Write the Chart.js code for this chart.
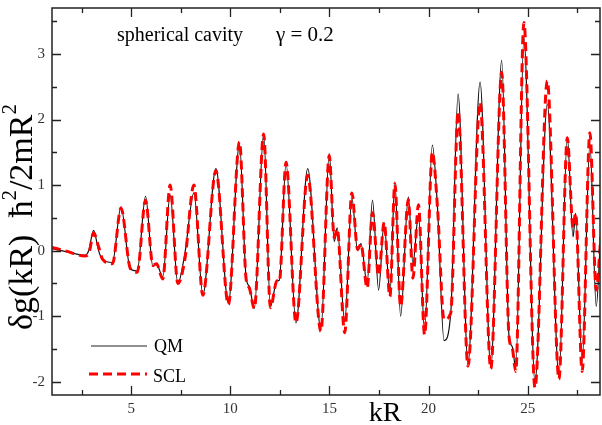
<!DOCTYPE html>
<html>
<head>
<meta charset="utf-8">
<script src="https://cdn.jsdelivr.net/npm/chart.js@4/dist/chart.umd.min.js"></script>
<style>
  html, body { margin: 0; padding: 0; background: #fff; overflow: hidden; }
  #wrap { width: 602px; height: 425px; }
</style>
</head>
<body>
<div id="wrap"><canvas id="chart" width="602" height="425"></canvas></div>
<script>
// values
const kr = [1.00, 1.65, 2.66, 2.85, 3.10, 3.35, 3.55, 4.05, 4.48, 4.95,
            5.30, 5.72, 6.09, 6.27, 6.59, 6.96, 7.35, 7.71, 8.16, 8.61,
            9.27, 9.90, 10.46, 10.79, 10.96, 11.21, 11.68, 12.02, 12.35, 12.47,
            12.81, 13.31, 13.90, 14.57, 14.99, 15.24, 15.39, 15.77, 16.13, 16.42,
            16.59, 16.90, 17.17, 17.48, 17.76, 18.05, 18.30, 18.59, 18.98, 19.21,
            19.49, 19.80, 20.19, 20.45, 20.78, 21.12, 21.49, 21.99, 22.60, 23.14,
            23.69, 24.06, 24.22, 24.40, 24.81, 25.37, 25.99, 26.58, 27.00, 27.29,
            27.42, 27.75, 28.14, 28.46, 28.69];
const qm = [0.03, -0.01, -0.07, 0.00, 0.31, 0.00, -0.14, -0.18, 0.67, -0.28,
            -0.31, 0.83, -0.24, -0.20, -0.40, 0.85, -0.50, -0.03, 0.88, -0.67,
            1.25, -0.80, 1.63, -0.40, -0.55, -0.88, 1.78, -0.85, -0.46, -0.45,
            1.33, -1.10, 1.25, -1.20, 1.48, 0.14, 0.35, -1.08, 0.80, 0.00,
            0.11, -0.50, 0.77, -0.60, 0.43, -0.67, 1.05, -1.00, 0.82, -0.20,
            0.55, -1.22, 1.61, 0.66, -1.37, -0.95, 2.39, -1.72, 2.57, -1.78,
            2.90, -1.31, -1.46, -1.79, 3.25, -2.00, 2.24, -1.92, 1.73, 0.21,
            0.57, -1.69, 1.63, -0.85, 0.30];
const scl = [0.05, 0.00, -0.08, -0.05, 0.27, 0.06, -0.13, -0.20, 0.65, -0.27,
             -0.33, 0.77, -0.22, -0.20, -0.43, 1.00, -0.50, -0.12, 1.00, -0.68,
             1.22, -0.82, 1.66, -0.42, -0.57, -0.88, 1.78, -0.87, -0.46, -0.47,
             1.35, -1.10, 1.15, -1.23, 1.45, 0.20, 0.33, -1.25, 0.88, 0.02,
             0.10, -0.57, 0.58, -0.38, 0.43, -0.70, 1.02, -0.85, 0.78, -0.42,
             0.70, -1.28, 1.50, 0.66, -1.05, -0.95, 2.12, -1.76, 2.26, -1.80,
             2.72, -1.31, -1.48, -1.84, 3.48, -2.09, 2.59, -1.96, 1.72, 0.35,
             0.57, -1.84, 1.80, -0.60, 0.20];

const xTicks = [2.5, 5, 7.5, 10, 12.5, 15, 17.5, 20, 22.5, 25, 27.5];
const yTicks = [-2, -1.5, -1, -0.5, 0, 0.5, 1, 1.5, 2, 2.5, 3, 3.5];

const SERIF = '"Liberation Serif", "DejaVu Serif", serif';

// inward ticks on all four sides + frame
const framePlugin = {
    id: 'frame',
    afterDraw(chart) {
        const { ctx, chartArea: a, scales } = chart;
        ctx.save();
        ctx.strokeStyle = '#222';
        ctx.lineWidth = 1.3;
        ctx.beginPath();
        yTicks.forEach(v => {
            const p = Math.round(scales.y.getPixelForValue(v)) + 0.5;
            const len = Number.isInteger(v) ? 9 : 5;
            ctx.moveTo(a.left, p); ctx.lineTo(a.left + len, p);
            ctx.moveTo(a.right, p); ctx.lineTo(a.right - len, p);
        });
        xTicks.forEach(v => {
            const p = Math.round(scales.x.getPixelForValue(v)) + 0.5;
            const len = v % 5 === 0 ? 9 : 5;
            ctx.moveTo(p, a.bottom); ctx.lineTo(p, a.bottom - len);
            ctx.moveTo(p, a.top); ctx.lineTo(p, a.top + len);
        });
        ctx.stroke();
        ctx.lineWidth = 1.5;
        ctx.strokeRect(a.left, a.top, a.right - a.left, a.bottom - a.top);
        ctx.restore();
    }
};

// titles, annotation and legend
const textPlugin = {
    id: 'texts',
    afterDraw(chart) {
        const ctx = chart.ctx;
        ctx.save();
        ctx.fillStyle = '#000';
        ctx.textBaseline = 'alphabetic';

        ctx.font = '20px ' + SERIF;
        ctx.fillText('spherical cavity', 117, 41);
        ctx.font = '21px ' + SERIF;
        ctx.fillText('\u03b3 = 0.2', 276, 41);

        // legend
        ctx.font = '18px ' + SERIF;
        ctx.strokeStyle = '#222';
        ctx.lineWidth = 1.2;
        ctx.beginPath(); ctx.moveTo(91, 346); ctx.lineTo(147, 346); ctx.stroke();
        ctx.strokeStyle = '#ff0000';
        ctx.lineWidth = 3;
        ctx.setLineDash([9, 5]);
        ctx.beginPath(); ctx.moveTo(89, 374); ctx.lineTo(147, 374); ctx.stroke();
        ctx.setLineDash([]);
        ctx.fillText('QM', 154, 352);
        ctx.fillText('SCL', 153, 382);

        // x title
        ctx.font = '28px ' + SERIF;
        ctx.textAlign = 'center';
        ctx.fillText('kR', 385, 421);

        // y title, rotated, with raised 2s
        const parts = [
            { t: '\u03b4g(kR)  \u0127', size: 34, dy: 0 },
            { t: '2', size: 21, dy: -16 },
            { t: '/2mR', size: 34, dy: 0 },
            { t: '2', size: 21, dy: -16 }
        ];
        ctx.textAlign = 'left';
        let total = 0;
        parts.forEach(p => {
            ctx.font = p.size + 'px ' + SERIF;
            p.w = ctx.measureText(p.t).width;
            total += p.w;
        });
        ctx.translate(32, 217);
        ctx.rotate(-Math.PI / 2);
        let x = -total / 2;
        parts.forEach(p => {
            ctx.font = p.size + 'px ' + SERIF;
            ctx.fillText(p.t, x, p.dy);
            x += p.w;
        });
        ctx.restore();
    }
};

const qmPoints = kr.map((x, i) => ({ x: x, y: qm[i] }));
const sclPoints = kr.map((x, i) => ({ x: x, y: scl[i] }));

new Chart(document.getElementById('chart'), {
    type: 'line',
    data: {
        datasets: [{
            label: 'QM',
            data: qmPoints,
            borderColor: '#111',
            borderWidth: 1.2,
            pointRadius: 0,
            cubicInterpolationMode: 'monotone',
            order: 2
        }, {
            label: 'SCL',
            data: sclPoints,
            borderColor: '#ff0000',
            borderWidth: 3,
            borderDash: [9, 5],
            pointRadius: 0,
            cubicInterpolationMode: 'monotone',
            order: 1
        }]
    },
    options: {
        responsive: false,
        animation: false,
        devicePixelRatio: 1,
        layout: { padding: { top: 8, right: 2, left: 0, bottom: 0 } },
        plugins: {
            legend: { display: false },
            tooltip: { enabled: false }
        },
        scales: {
            x: {
                type: 'linear',
                min: 1,
                max: 28.65,
                afterBuildTicks: s => { s.ticks = xTicks.map(v => ({ value: v })); },
                afterFit: s => {
                    s.height = 30;
                    s.paddingLeft = 0; s.paddingRight = 0;
                },
                grid: { display: false, drawTicks: false, tickLength: 0 },
                border: { display: false },
                ticks: {
                    autoSkip: false,
                    maxRotation: 0,
                    padding: 5,
                    color: '#333',
                    font: { family: SERIF, size: 15 },
                    callback: v => (v % 5 === 0 ? String(v) : '')
                }
            },
            y: {
                min: -2.2,
                max: 3.7,
                afterBuildTicks: s => { s.ticks = yTicks.map(v => ({ value: v })); },
                afterFit: s => {
                    s.width = 52;
                    s.paddingTop = 0; s.paddingBottom = 0;
                },
                grid: { display: false, drawTicks: false, tickLength: 0 },
                border: { display: false },
                ticks: {
                    autoSkip: false,
                    padding: 7,
                    color: '#333',
                    font: { family: SERIF, size: 15 },
                    callback: v => (Number.isInteger(v) ? String(v) : '')
                }
            }
        }
    },
    plugins: [framePlugin, textPlugin]
});
</script>
</body>
</html>
